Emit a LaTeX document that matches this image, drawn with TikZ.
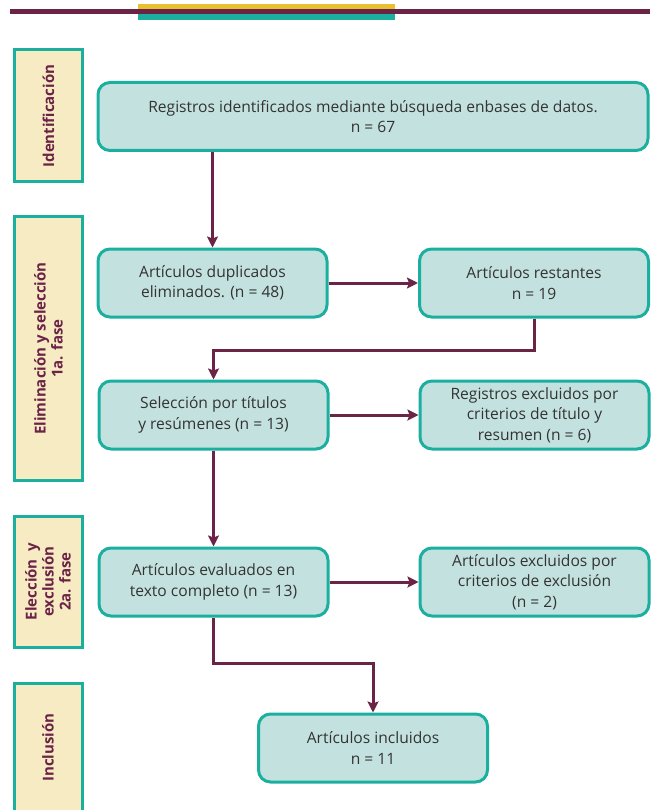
\documentclass[tikz,border=0pt]{standalone}
\usepackage{fontspec}
\setmainfont{Open Sans}
\usetikzlibrary{arrows.meta}
\definecolor{vino}{HTML}{6B2346}
\definecolor{turquesa}{HTML}{1BAFA0}
\definecolor{aguaclara}{HTML}{C3E2DF}
\definecolor{crema}{HTML}{F7EBC4}
\definecolor{mostaza}{HTML}{E8C030}
\tikzset{
  caja/.style={draw=turquesa,line width=3pt,fill=aguaclara,rounded corners=12pt,minimum width=229pt,minimum height=68pt,align=center,text=black!80,font=\fontsize{15.6}{20.5}\selectfont},
  fase/.style={draw=turquesa,line width=3pt,fill=crema,rotate=90,minimum height=68pt,align=center,text=vino,font=\fontsize{15}{17}\selectfont\bfseries},
  flecha/.style={vino,line width=3pt,-{Stealth[length=11pt,width=11pt,inset=2pt]}}
}
\begin{document}
\begin{tikzpicture}[x=1pt,y=-1pt]
\useasboundingbox (0,0) rectangle (650,810);
% franja superior
\fill[mostaza] (138,4) rectangle (395,10);
\fill[turquesa] (138,13) rectangle (395,20);
\draw[vino,line width=5pt] (10,11.5) -- (650,11.5);
% fases
\node[fase,minimum width=132pt] (f1) at (48.5,116) {Identificación};
\node[fase,minimum width=263pt] (f2) at (48.5,348.5) {Eliminación y selección\\1a. fase};
\node[fase,minimum width=131pt] (f3) at (48,581.5) {Elección~~y\\exclusión\\2a. fase};
\node[fase,minimum width=129pt] (f4) at (48,747.5) {Inclusión};
% cajas
\node[caja,minimum width=550pt] (reg) at (373,116.5) {Registros identificados mediante búsqueda enbases de datos.\\n = 67};
\node[caja] (dup) at (212.5,283) {Artículos duplicados\\eliminados. (n = 48)};
\node[caja] (rest) at (534,283) {Artículos restantes\\n = 19};
\node[caja] (sel) at (213.5,415) {Selección por títulos\\y resúmenes (n = 13)};
\node[caja] (excl1) at (534.5,415) {Registros excluidos por\\criterios de título y\\resumen (n = 6)};
\node[caja] (eval) at (213.5,582) {Artículos evaluados en\\texto completo (n = 13)};
\node[caja] (excl2) at (534.5,582) {Artículos excluidos por\\criterios de exclusión\\(n = 2)};
\node[caja] (incl) at (373,748) {Artículos incluidos\\n = 11};
% flechas
\draw[flecha] (reg.south -| dup.north) -- (dup.north);
\draw[flecha] (dup) -- (rest);
\draw[flecha] (rest.south) -- ++(0,32) -| (sel.north);
\draw[flecha] (sel) -- (excl1);
\draw[flecha] (sel) -- (eval);
\draw[flecha] (eval) -- (excl2);
\draw[flecha] (eval.south) -- ++(0,46) -| (incl.north);
\end{tikzpicture}
\end{document}
